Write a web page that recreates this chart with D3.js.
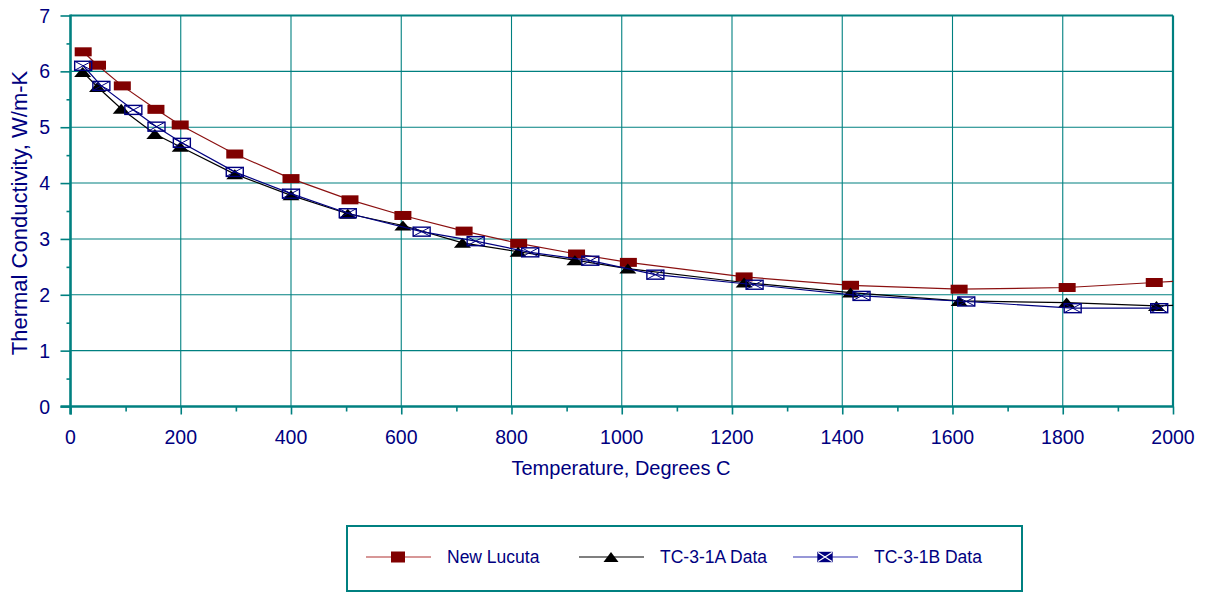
<!DOCTYPE html>
<html>
<head>
<meta charset="utf-8">
<script src="https://cdn.jsdelivr.net/npm/d3@7"></script>
<style>
  html, body { margin: 0; padding: 0; background: #fff; }
  svg { display: block; font-family: "Liberation Sans", Arial, sans-serif; }
</style>
</head>
<body>
<svg id="chart" width="1208" height="594"></svg>
<script>
// Temperature (°C) and thermal conductivity (W/m-K) for each series
const lucutaTemp = [23, 49, 94, 155, 199, 298, 400, 507, 603, 714, 813, 918, 1012, 1222, 1415, 1612, 1808, 1966];
const lucutaK    = [6.35, 6.11, 5.74, 5.32, 5.04, 4.52, 4.08, 3.70, 3.42, 3.14, 2.92, 2.73, 2.58, 2.32, 2.17, 2.10, 2.13, 2.22];
const tc1aTemp   = [22, 49, 92, 153, 199, 298, 400, 503, 603, 711, 812, 915, 1011, 1222, 1415, 1612, 1807, 1970];
const tc1aK      = [5.99, 5.72, 5.33, 4.88, 4.65, 4.16, 3.78, 3.45, 3.24, 2.93, 2.77, 2.62, 2.47, 2.22, 2.04, 1.89, 1.86, 1.80];
const tc1bTemp   = [23, 56, 114, 156, 202, 298, 400, 503, 637, 735, 834, 943, 1061, 1241, 1435, 1625, 1818, 1975];
const tc1bK      = [6.10, 5.74, 5.31, 5.01, 4.72, 4.20, 3.81, 3.46, 3.13, 2.96, 2.76, 2.61, 2.36, 2.18, 1.98, 1.88, 1.76, 1.76];
// the curves run on to the right edge of the plot
const lucutaEdgeK = 2.24;
const tc1aEdgeK   = 1.81;

const xTicks = [0, 200, 400, 600, 800, 1000, 1200, 1400, 1600, 1800, 2000];
const yTicks = [0, 1, 2, 3, 4, 5, 6, 7];
const seriesNames = ["New Lucuta", "TC-3-1A Data", "TC-3-1B Data"];

const teal = "#008080";
const navy = "#000080";
const maroon = "#800000";

const svg = d3.select("#chart");
const x = d3.scaleLinear().domain([0, 2000]).range([70.5, 1173]);
const y = d3.scaleLinear().domain([0, 7]).range([406.5, 15.5]);

// grid
const grid = svg.append("g");
grid.selectAll("line.v").data(xTicks.slice(1)).join("line")
  .attr("x1", d => x(d)).attr("x2", d => x(d))
  .attr("y1", y(0)).attr("y2", y(7))
  .attr("stroke", teal).attr("stroke-width", d => d === 2000 ? 2.2 : 1.1);
grid.selectAll("line.h").data(yTicks.slice(1)).join("line")
  .attr("y1", d => y(d)).attr("y2", d => y(d))
  .attr("x1", x(0)).attr("x2", x(2000))
  .attr("stroke", teal).attr("stroke-width", d => d === 7 ? 2 : 1.1);

// axes
const xAxis = svg.append("g").attr("transform", `translate(0,${y(0)})`)
  .call(d3.axisBottom(x).tickValues(d3.range(0, 2001, 100)).tickSize(0).tickFormat(""));
xAxis.select(".domain").remove();
xAxis.selectAll(".tick line").attr("stroke", teal).attr("stroke-width", 1.6)
  .attr("y2", d => d % 200 === 0 ? 8 : 5);
svg.append("line").attr("x1", x(0) - 10).attr("x2", x(2000) + 1)
  .attr("y1", y(0)).attr("y2", y(0)).attr("stroke", teal).attr("stroke-width", 2.6);

const yAxis = svg.append("g").attr("transform", `translate(${x(0)},0)`)
  .call(d3.axisLeft(y).tickValues(d3.range(0, 7.01, 0.5)).tickSize(0).tickFormat(""));
yAxis.select(".domain").remove();
yAxis.selectAll(".tick line").attr("stroke", teal).attr("stroke-width", 1.6)
  .attr("x2", d => Number.isInteger(d) ? -10 : -4);
svg.append("line").attr("x1", x(0)).attr("x2", x(0))
  .attr("y1", y(7) - 1).attr("y2", y(0) + 8).attr("stroke", teal).attr("stroke-width", 2.6);

// tick labels
svg.append("g").selectAll("text").data(xTicks).join("text")
  .attr("x", d => x(d)).attr("y", 444)
  .attr("text-anchor", "middle").attr("fill", navy).attr("font-size", 19.5)
  .text(d => d);
svg.append("g").selectAll("text").data(yTicks).join("text")
  .attr("x", 50).attr("y", d => y(d)).attr("dy", "0.36em")
  .attr("text-anchor", "end").attr("fill", navy).attr("font-size", 19.5)
  .text(d => d);

// axis titles
svg.append("text").attr("x", 621).attr("y", 475)
  .attr("text-anchor", "middle").attr("fill", navy).attr("font-size", 20)
  .text("Temperature, Degrees C");
svg.append("text").attr("transform", `translate(27,${(y(0) + y(7)) / 2 + 2}) rotate(-90)`)
  .attr("text-anchor", "middle").attr("fill", navy).attr("font-size", 22)
  .text("Thermal Conductivity, W/m-K");

// series
const zip = (ts, ks) => ts.map((t, i) => ({ t, k: ks[i] }));
const lucuta = zip(lucutaTemp, lucutaK);
const tc1a = zip(tc1aTemp, tc1aK);
const tc1b = zip(tc1bTemp, tc1bK);

const line = d3.line().x(d => x(d.t)).y(d => y(d.k));
const plot = svg.append("g");

// marker shapes
function square(g, w, h, fill) {
  g.append("rect").attr("x", -w / 2).attr("y", -h / 2).attr("width", w).attr("height", h)
    .attr("fill", fill);
}
function triangle(g, w, h) {
  g.append("path").attr("d", `M0,${-h / 2}L${w / 2},${h / 2}L${-w / 2},${h / 2}Z`).attr("fill", "#000");
}
function crossBox(g, w, h, filled) {
  g.append("rect").attr("x", -w / 2).attr("y", -h / 2).attr("width", w).attr("height", h)
    .attr("fill", filled ? navy : "none").attr("stroke", navy).attr("stroke-width", 1.4);
  g.append("path").attr("d", `M${-w / 2},${-h / 2}L${w / 2},${h / 2}M${w / 2},${-h / 2}L${-w / 2},${h / 2}`)
    .attr("stroke", filled ? "#fff" : navy).attr("stroke-width", filled ? 1.2 : 1);
}

// New Lucuta
plot.append("path").datum(lucuta.concat([{ t: 2000, k: lucutaEdgeK }])).attr("d", line)
  .attr("fill", "none").attr("stroke", "#8b1010").attr("stroke-width", 1.2);
plot.append("g").selectAll("g").data(lucuta).join("g")
  .attr("transform", d => `translate(${x(d.t)},${y(d.k)})`)
  .each(function () { square(d3.select(this), 17, 9, maroon); });

// TC-3-1A
plot.append("path").datum(tc1a.concat([{ t: 2000, k: tc1aEdgeK }])).attr("d", line)
  .attr("fill", "none").attr("stroke", "#000").attr("stroke-width", 1.2);
plot.append("g").selectAll("g").data(tc1a).join("g")
  .attr("transform", d => `translate(${x(d.t)},${y(d.k)})`)
  .each(function () { triangle(d3.select(this), 17, 10); });

// TC-3-1B
plot.append("path").datum(tc1b).attr("d", line)
  .attr("fill", "none").attr("stroke", navy).attr("stroke-width", 1.2);
plot.append("g").selectAll("g").data(tc1b).join("g")
  .attr("transform", d => `translate(${x(d.t)},${y(d.k)})`)
  .each(function () { crossBox(d3.select(this), 17, 9, false); });

// legend
const legend = svg.append("g");
legend.append("rect").attr("x", 347).attr("y", 526).attr("width", 675).attr("height", 65)
  .attr("fill", "#fff").attr("stroke", teal).attr("stroke-width", 2);
const legendItems = [
  { name: seriesNames[0], lx: 366, stroke: "#b03030", draw: g => square(g, 14, 11, maroon) },
  { name: seriesNames[1], lx: 579, stroke: "#000", draw: g => triangle(g, 15, 10) },
  { name: seriesNames[2], lx: 793, stroke: "#3030b0", draw: g => crossBox(g, 14, 9, true) }
];
const ly = 557;
legendItems.forEach(it => {
  legend.append("line").attr("x1", it.lx).attr("x2", it.lx + 65).attr("y1", ly).attr("y2", ly)
    .attr("stroke", it.stroke).attr("stroke-width", 1.2);
  const m = legend.append("g").attr("transform", `translate(${it.lx + 32},${ly})`);
  it.draw(m);
  legend.append("text").attr("x", it.lx + 81).attr("y", ly).attr("dy", "0.36em")
    .attr("fill", navy).attr("font-size", 17.5).text(it.name);
});
</script>
</body>
</html>
